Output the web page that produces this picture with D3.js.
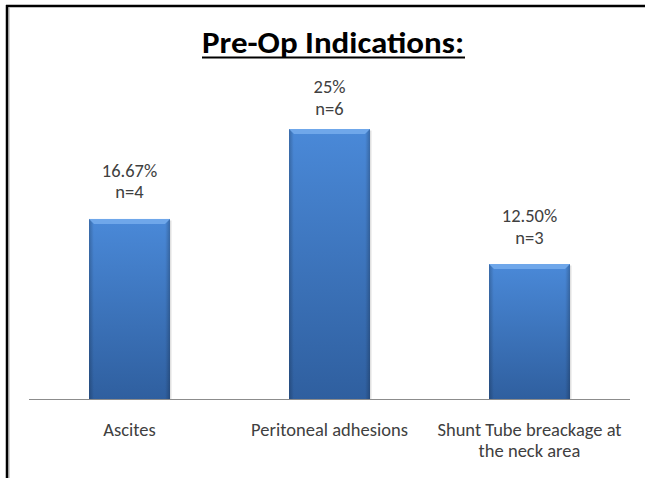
<!DOCTYPE html>
<html>
<head>
<meta charset="utf-8">
<script src="https://cdn.jsdelivr.net/npm/d3@7"></script>
<style>
  html, body { margin: 0; padding: 0; background: #fff; }
  svg { display: block; }
  text { font-family: Carlito, Calibri, "Open Sans", sans-serif; }
</style>
</head>
<body>
<div id="chart"></div>
<script>
// chart data
const categories = ["Ascites", "Peritoneal adhesions", "Shunt Tube breackage at|the neck area"];
const percents = [16.67, 25, 12.5];
const pctLabels = ["16.67%", "25%", "12.50%"];
const counts = ["n=4", "n=6", "n=3"];
const title = "Pre-Op Indications:";

const width = 645, height = 478;
const margin = { left: 29, right: 15, bottom: 79 };
const baseY = height - margin.bottom;
const labelTop = 93; // value labels kept below this line

const svg = d3.select('#chart').append('svg')
  .attr('width', width)
  .attr('height', height);

// gradients for the bevelled bars
const defs = svg.append('defs');
const vg = defs.append('linearGradient').attr('id', 'barV')
  .attr('x1', 0).attr('y1', 0).attr('x2', 0).attr('y2', 1);
vg.append('stop').attr('offset', '0%').attr('stop-color', '#4a89d8');
vg.append('stop').attr('offset', '100%').attr('stop-color', '#2f5f9f');
const hg = defs.append('linearGradient').attr('id', 'barH')
  .attr('x1', 0).attr('y1', 0).attr('x2', 1).attr('y2', 0);
hg.append('stop').attr('offset', '0%').attr('stop-color', '#000').attr('stop-opacity', 0.22);
hg.append('stop').attr('offset', '6%').attr('stop-color', '#000').attr('stop-opacity', 0);
hg.append('stop').attr('offset', '94%').attr('stop-color', '#000').attr('stop-opacity', 0);
hg.append('stop').attr('offset', '100%').attr('stop-color', '#000').attr('stop-opacity', 0.22);

// frame (top and left edges)
svg.append('line').attr('x1', 9).attr('x2', 9).attr('y1', 8).attr('y2', height)
  .attr('stroke', '#a6a6a6').attr('stroke-width', 1);
svg.append('line').attr('x1', 7).attr('x2', 7).attr('y1', 5).attr('y2', height)
  .attr('stroke', '#000').attr('stroke-width', 2.5);
svg.append('line').attr('x1', 6).attr('x2', width).attr('y1', 6).attr('y2', 6)
  .attr('stroke', '#000').attr('stroke-width', 2.5);

// title
svg.append('text')
  .attr('x', 333).attr('y', 53)
  .attr('text-anchor', 'middle')
  .attr('font-size', 30)
  .attr('font-weight', 'bold')
  .attr('textLength', 262)
  .attr('lengthAdjust', 'spacingAndGlyphs')
  .attr('fill', '#000')
  .text(title);
svg.append('line').attr('x1', 202).attr('x2', 465).attr('y1', 57.5).attr('y2', 57.5)
  .attr('stroke', '#000').attr('stroke-width', 2);

// scales
const x = d3.scaleBand()
  .domain(categories)
  .range([margin.left, width - margin.right])
  .paddingInner(0.595)
  .paddingOuter(0.3);

const y = d3.scaleLinear()
  .domain([0, 30])
  .range([baseY, baseY - 324]);

const data = categories.map((c, i) => ({ cat: c, v: percents[i], p: pctLabels[i], n: counts[i] }));

const bars = svg.append('g').attr('class', 'bars');

// soft shadow
bars.selectAll('.shadow').data(data).enter().append('rect')
  .attr('x', d => x(d.cat) + 1.5)
  .attr('y', d => y(d.v) + 1.5)
  .attr('width', x.bandwidth())
  .attr('height', d => baseY - y(d.v) - 1.5)
  .attr('fill', '#000').attr('opacity', 0.12);

bars.selectAll('.bar').data(data).enter().append('rect')
  .attr('class', 'bar')
  .attr('x', d => x(d.cat))
  .attr('y', d => y(d.v))
  .attr('width', x.bandwidth())
  .attr('height', d => baseY - y(d.v))
  .attr('fill', 'url(#barV)');

bars.selectAll('.edge').data(data).enter().append('rect')
  .attr('x', d => x(d.cat))
  .attr('y', d => y(d.v))
  .attr('width', x.bandwidth())
  .attr('height', d => baseY - y(d.v))
  .attr('fill', 'url(#barH)');

// top bevel
bars.selectAll('.bevel').data(data).enter().append('path')
  .attr('d', d => {
    const x0 = x(d.cat), x1 = x0 + x.bandwidth(), t = y(d.v);
    return `M${x0},${t}L${x1},${t}L${x1 - 5},${t + 5}L${x0 + 5},${t + 5}Z`;
  })
  .attr('fill', '#6fa7ea');

// axis line
svg.append('line')
  .attr('x1', margin.left).attr('x2', width - margin.right)
  .attr('y1', baseY + 0.5).attr('y2', baseY + 0.5)
  .attr('stroke', '#8c8c8c').attr('stroke-width', 1);

// value labels
const pctY = d => Math.max(y(d.v) - 42, labelTop);
const lbl = svg.append('g').attr('class', 'labels')
  .attr('font-size', 18.5).attr('fill', '#404040').attr('text-anchor', 'middle');
lbl.selectAll('.pct').data(data).enter().append('text')
  .attr('x', d => x(d.cat) + x.bandwidth() / 2)
  .attr('y', pctY)
  .text(d => d.p);
lbl.selectAll('.cnt').data(data).enter().append('text')
  .attr('x', d => x(d.cat) + x.bandwidth() / 2)
  .attr('y', d => pctY(d) + 21.5)
  .text(d => d.n);

// category labels
const cl = svg.append('g').attr('class', 'cats')
  .attr('font-size', 18.5).attr('fill', '#404040').attr('text-anchor', 'middle');
data.forEach(d => {
  const t = cl.append('text').attr('x', x(d.cat) + x.bandwidth() / 2).attr('y', 436);
  d.cat.split('|').forEach((s, i) => {
    t.append('tspan').attr('x', x(d.cat) + x.bandwidth() / 2).attr('dy', i ? 21 : 0).text(s);
  });
});
</script>
</body>
</html>
